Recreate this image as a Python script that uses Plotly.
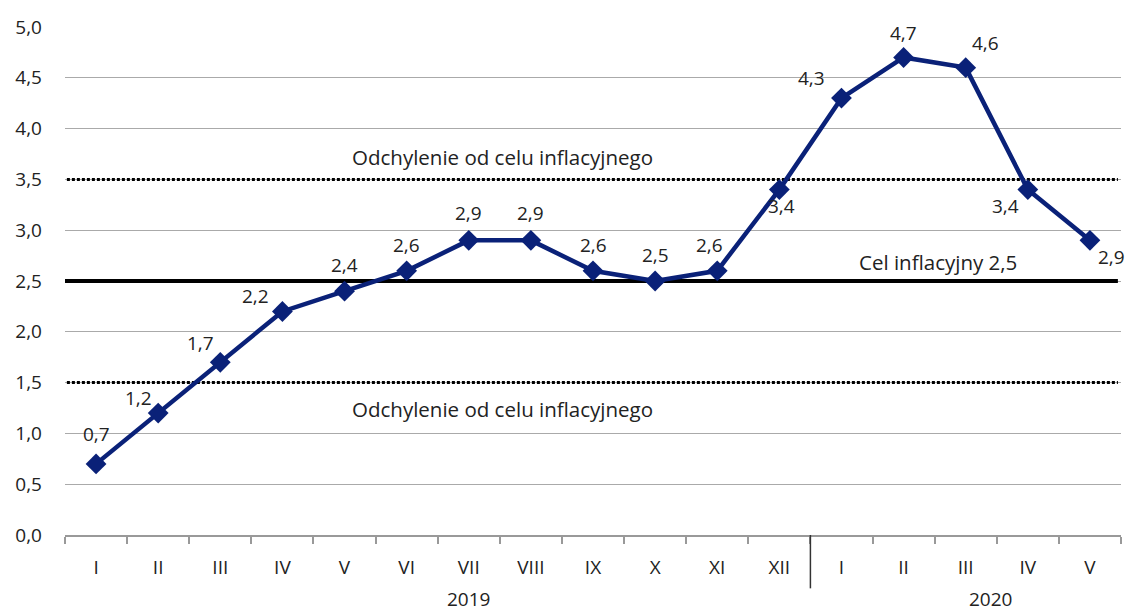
import plotly.graph_objects as go

months = ["I", "II", "III", "IV", "V", "VI", "VII", "VIII", "IX", "X", "XI", "XII",
          "I", "II", "III", "IV", "V"]
values = [0.7, 1.2, 1.7, 2.2, 2.4, 2.6, 2.9, 2.9, 2.6, 2.5, 2.6, 3.4,
          4.3, 4.7, 4.6, 3.4, 2.9]
value_labels = ["0,7", "1,2", "1,7", "2,2", "2,4", "2,6", "2,9", "2,9", "2,6", "2,5", "2,6", "3,4",
                "4,3", "4,7", "4,6", "3,4", "2,9"]
y_ticks = [0, 0.5, 1, 1.5, 2, 2.5, 3, 3.5, 4, 4.5, 5]
y_tick_labels = ["0,0", "0,5", "1,0", "1,5", "2,0", "2,5", "3,0", "3,5", "4,0", "4,5", "5,0"]
target = 2.5
band_upper = 3.5
band_lower = 1.5
years = ["2019", "2020"]
band_text = "Odchylenie od celu inflacyjnego"
target_text = "Cel inflacyjny 2,5"

# label offsets (pixels) for value labels
label_dx = [0, -20, -20, -27, 0, 0, 0, 0, 0, 0, -8, 2, -30, 0, 20, -22, 22]
label_dy = [-30, -15, -19, -15, -26, -26, -27, -27, -26, -26, -26, 16, -20, -24, -25, 16, 17]

FONT = "Open Sans"
FS = 19
FS_NOTE = 20.5
TXT = "#222"
x = list(range(len(months)))
x_span = [-0.55, len(months) - 0.55]

fig = go.Figure()

# reference lines as traces (drawn above the grid, below the series)
for yv, dash, w in [(band_upper, "3px,2px", 3), (band_lower, "3px,2px", 3), (target, "solid", 4)]:
    fig.add_trace(go.Scatter(
        x=x_span, y=[yv, yv], mode="lines",
        line=dict(color="#000", width=w, dash=dash),
        hoverinfo="skip", showlegend=False, cliponaxis=False,
    ))

fig.add_trace(go.Scatter(
    x=x, y=values, mode="lines+markers",
    line=dict(color="#0a2178", width=4.5),
    marker=dict(symbol="diamond", size=16, color="#0a2178"),
    hoverinfo="skip", showlegend=False, cliponaxis=False,
))

annotations = []
for i, (v, t) in enumerate(zip(values, value_labels)):
    annotations.append(dict(x=x[i], y=v, text=t, showarrow=False,
                            xshift=label_dx[i], yshift=-label_dy[i],
                            font=dict(family=FONT, size=FS, color=TXT)))

annotations += [
    dict(x=6.55, y=band_upper, text=band_text, showarrow=False, yshift=22,
         font=dict(family=FONT, size=FS_NOTE, color=TXT)),
    dict(x=6.55, y=band_lower, text=band_text, showarrow=False, yshift=-26,
         font=dict(family=FONT, size=FS_NOTE, color=TXT)),
    dict(x=13.55, y=target, text=target_text, showarrow=False, yshift=19,
         font=dict(family=FONT, size=FS_NOTE, color=TXT)),
    dict(x=6.0, y=0, yref="paper", text=years[0], showarrow=False, yshift=-79,
         font=dict(family=FONT, size=FS, color=TXT)),
    dict(x=14.4, y=0, yref="paper", text=years[1], showarrow=False, yshift=-79,
         font=dict(family=FONT, size=FS, color=TXT)),
]

shapes = [
    dict(type="line", x0=11.5, x1=11.5, yref="paper", y0=0, y1=-0.105,
         line=dict(color="#333", width=1.5)),
]

fig.update_layout(
    width=1134, height=610,
    margin=dict(l=57, r=21, t=19, b=83),
    plot_bgcolor="white", paper_bgcolor="white",
    font=dict(family=FONT, size=FS, color=TXT),
    xaxis=dict(
        tickmode="array", tickvals=x, ticktext=months,
        range=[-0.5, len(months) - 0.5], automargin=False,
        showgrid=False, showline=True, linecolor="#999", linewidth=1.5,
        ticks="", zeroline=False, ticklabelstandoff=14,
        tickfont=dict(family=FONT, size=FS, color=TXT),
        minor=dict(tickmode="array", tickvals=[i + 0.5 for i in range(-1, len(months))],
                   ticks="outside", ticklen=7, tickcolor="#999", tickwidth=1.5),
    ),
    yaxis=dict(
        range=[0, 5], tickvals=y_ticks, ticktext=y_tick_labels, automargin=False,
        showgrid=True, gridcolor="#aaa", gridwidth=1,
        zeroline=False, showline=False, ticks="", ticklabelstandoff=22,
        tickfont=dict(family=FONT, size=FS, color=TXT),
    ),
    annotations=annotations, shapes=shapes,
)

fig.write_html("out.html")
